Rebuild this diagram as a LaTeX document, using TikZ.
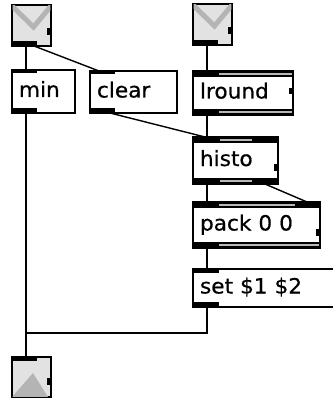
\documentclass[tikz,border=0pt]{standalone}
\usepackage{fontspec}
\newfontfamily\maxfont[FakeStretch=1.03,FakeBold=0.6]{DejaVu Sans}
\usetikzlibrary{calc}
\definecolor{iconbg}{HTML}{E2E2E2}
\definecolor{icondk}{HTML}{B4B4B4}
\definecolor{dblgray}{HTML}{B8B8B8}
\begin{document}
\begin{tikzpicture}[x=1pt,y=-1pt,
  box/.style={draw, line width=1.3pt, fill=white, anchor=north west, inner xsep=7pt, inner ysep=0pt, outer sep=0pt, text height=14pt, text depth=3pt, align=left, font=\maxfont\fontsize{21}{24}\selectfont},
  msg/.style={box, line width=2.2pt},
  icon/.style={draw, line width=1.3pt, fill=iconbg, anchor=north west, inner sep=0pt, outer sep=0pt, minimum width=39pt, minimum height=41pt},
  port/.style={fill=black},
  dbl/.style={fill=dblgray},
  cord/.style={line width=1.4pt, black},
  vee/.style={icondk, line width=5pt, line join=miter}
]
\useasboundingbox (0,0) rectangle (332,398);

% icons
\node[icon] (in1) at (12,5) {};
\node[icon] (in2) at (193,4) {};
\node[icon, minimum height=40pt] (out) at (12,357) {};

% objects
\node[box, text width=49pt, minimum height=43pt] (min) at (12,70) {min};
\node[box, text width=73pt, minimum height=42pt] (clear) at (90,71) {clear};
\node[box, text width=86pt, minimum height=44pt] (lround) at (193,71) {lround};
\node[box, text width=71pt, minimum height=47pt] (histo) at (193,137) {histo};
\node[box, text width=113pt, minimum height=46pt] (pack) at (193,202) {pack 0 0};
\node[msg, text width=136pt, minimum height=38pt] (set) at (193,269) {set \$1 \$2};

% icon decorations
\foreach \n in {in1,in2}{
  \begin{scope}
    \clip ($(\n.north west)+(0.65,0.65)$) rectangle ($(\n.south east)+(-0.65,-0.65)$);
    \draw[vee] ($(\n.north west)+(0,1)$) -- ($(\n.north)+(2,22)$) -- ($(\n.north east)+(0,1)$);
  \end{scope}
  \fill[port] ($(\n.south west)+(0,-5)$) rectangle ($(\n.south west)+(25,0)$);
  \fill[port] ($(\n.north east)+(-4,23)$) rectangle ($(\n.north east)+(0,30)$);
}
\begin{scope}
  \clip ($(out.north west)+(0.65,0.65)$) rectangle ($(out.south east)+(-0.65,-0.65)$);
  \fill[icondk] (out.south west) -- ($(out.north west)+(21,16)$) -- ($(out.south east)+(-3,0)$) -- cycle;
\end{scope}
\fill[port] (out.north west) rectangle ($(out.north west)+(25,3.5)$);
\fill[port] ($(out.north east)+(-4,21)$) rectangle ($(out.north east)+(0,28)$);

% plain object ports
\foreach \n in {min,clear}{
  \fill[port] (\n.north west) rectangle ($(\n.north west)+(25,3)$);
  \fill[port] ($(\n.south west)+(0,-5)$) rectangle ($(\n.south west)+(25,0)$);
}
\fill[port] (set.north west) rectangle ($(set.north west)+(26,3.5)$);
\fill[port] ($(set.south west)+(0,-5)$) rectangle ($(set.south west)+(26,0)$);

% double-line objects
% lround
\fill[port] (lround.north west) rectangle ($(lround.north east)+(0,6)$);
\fill[dbl] ($(lround.north west)+(26,1.6)$) rectangle ($(lround.north east)+(-1.5,4.4)$);
\fill[port] ($(lround.south west)+(0,-6)$) rectangle (lround.south east);
\fill[dbl] ($(lround.south west)+(26,-4.4)$) rectangle ($(lround.south east)+(-1.5,-1.6)$);
\fill[port] ($(lround.north east)+(-4,17)$) rectangle ($(lround.north east)+(0,23)$);
% histo
\fill[port] (histo.north west) rectangle ($(histo.north east)+(0,6)$);
\fill[dbl] ($(histo.north west)+(27,1.6)$) rectangle ($(histo.north west)+(59,4.4)$);
\fill[port] ($(histo.south west)+(0,-6)$) rectangle (histo.south east);
\fill[dbl] ($(histo.south west)+(27,-4.4)$) rectangle ($(histo.south west)+(59,-1.6)$);
\fill[port] ($(histo.north east)+(-4,27)$) rectangle ($(histo.north east)+(0,34)$);
% pack
\fill[port] (pack.north west) rectangle ($(pack.north east)+(0,6)$);
\fill[dbl] ($(pack.north west)+(26,1.6)$) rectangle ($(pack.north west)+(102,4.4)$);
\fill[port] ($(pack.south west)+(0,-6)$) rectangle (pack.south east);
\fill[dbl] ($(pack.south west)+(26,-4.4)$) rectangle ($(pack.south east)+(-1.5,-1.6)$);
\fill[port] ($(pack.north east)+(-4,27)$) rectangle ($(pack.north east)+(0,34)$);

% cords
\draw[cord] ($(in1.south west)+(14,0)$) -- ($(min.north west)+(14,0)$);
\draw[cord] ($(in1.south west)+(22,0)$) -- ($(clear.north west)+(9,0)$);
\draw[cord] ($(in2.south west)+(14,0)$) -- ($(lround.north west)+(14,0)$);
\draw[cord] ($(lround.south west)+(14,0)$) -- ($(histo.north west)+(14,0)$);
\draw[cord] ($(clear.south west)+(20,0)$) -- ($(histo.north west)+(12,0)$);
\draw[cord] ($(histo.south west)+(14,0)$) -- ($(pack.north west)+(14,0)$);
\draw[cord] ($(histo.south east)+(-13,0)$) -- ($(pack.north east)+(-13,0)$);
\draw[cord] ($(pack.south west)+(14,0)$) -- ($(set.north west)+(14,0)$);
\draw[cord] ($(min.south west)+(14,0)$) -- ($(out.north west)+(14,0)$);
\draw[cord] ($(set.south west)+(14,0)$) -- ++(0,26) -| ($(out.north west)+(14,0)$);
\end{tikzpicture}
\end{document}
